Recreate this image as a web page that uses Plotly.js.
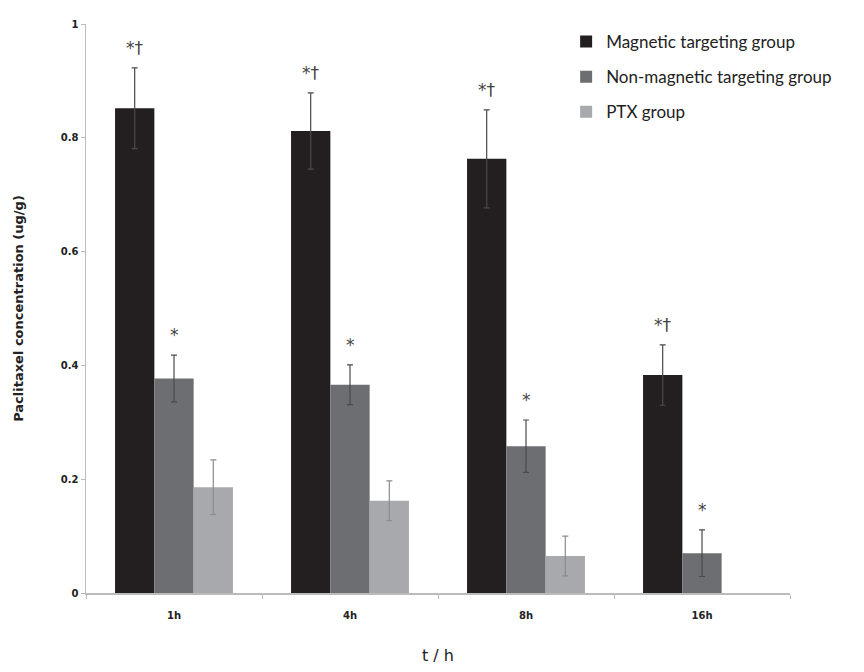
<!DOCTYPE html>
<html>
<head>
<meta charset="utf-8">
<script src="https://cdn.plot.ly/plotly-3.0.1.min.js"></script>
<style>html,body{margin:0;padding:0;background:#fff;}#chart{width:864px;height:672px;}</style>
</head>
<body>
<div id="chart"></div>
<script>
const categories = ["1h", "4h", "8h", "16h"];
const seriesNames = ["Magnetic targeting group", "Non-magnetic targeting group", "PTX group"];
const magnetic = [0.852, 0.812, 0.763, 0.383];
const magneticErr = [0.071, 0.067, 0.086, 0.053];
const nonMagnetic = [0.377, 0.366, 0.258, 0.070];
const nonMagneticErr = [0.041, 0.035, 0.046, 0.041];
const ptx = [0.186, 0.162, 0.065, null];
const ptxErr = [0.048, 0.035, 0.035, null];
const magneticMarks = ["*†", "*†", "*†", "*†"];
const nonMagneticMarks = ["*", "*", "*", "*"];
const yTicks = [0, 0.2, 0.4, 0.6, 0.8, 1];

const colors = ["#231f20", "#6d6e71", "#a7a9ac"];
const values = [magnetic, nonMagnetic, ptx];
const errs = [magneticErr, nonMagneticErr, ptxErr];
const bargap = 0.33;
const barW = (1 - bargap) / 3;

const traces = values.map((v, k) => ({
  type: "bar",
  name: seriesNames[k],
  x: categories,
  y: v,
  legendgroup: "g" + k,
  marker: {color: colors[k], line: {width: 0}},
  error_y: {type: "data", array: errs[k], symmetric: true, visible: true,
            color: k === 2 ? "#8a8c8e" : "#4a4a4c", thickness: 1.2, width: 3}
}));

const annotations = [];
[magneticMarks, nonMagneticMarks].forEach((marks, k) => {
  marks.forEach((m, i) => {
    annotations.push({
      x: i + (k - 1) * barW, y: values[k][i] + errs[k][i], xref: "x", yref: "y",
      text: m, showarrow: false, yanchor: "bottom", yshift: 8,
      font: {family: "DejaVu Sans", size: 17, color: "#444"}
    });
  });
});

const layout = {
  width: 864, height: 672,
  margin: {l: 86, r: 74, t: 24, b: 79},
  paper_bgcolor: "#fff", plot_bgcolor: "#fff",
  barmode: "group", bargap: bargap, bargroupgap: 0,
  showlegend: true,
  legend: {x: 0.682, y: 1.0, xanchor: "left", yanchor: "top",
           font: {family: "Lato", size: 17, color: "#222"},
           tracegroupgap: 10, bgcolor: "rgba(0,0,0,0)", itemwidth: 30},
  xaxis: {
    type: "category", showline: true, linecolor: "#bbb", linewidth: 1.5,
    ticks: "outside", tickson: "boundaries", ticklen: 4, tickcolor: "#bbb",
    ticklabelstandoff: 12,
    tickfont: {family: "DejaVu Sans", size: 10, color: "#222", weight: "bold"},
    title: {text: "t / h", font: {family: "DejaVu Sans", size: 16, color: "#222"}, standoff: 30},
    showgrid: false, zeroline: false
  },
  yaxis: {
    range: [0, 1], tickvals: yTicks, showline: true, linecolor: "#bbb", linewidth: 1.5,
    ticks: "outside", ticklen: 4, tickcolor: "#bbb",
    tickfont: {family: "DejaVu Sans", size: 10, color: "#222", weight: "bold"},
    title: {text: "Paclitaxel concentration (ug/g)", font: {family: "DejaVu Sans", size: 13, color: "#222", weight: "bold"}, standoff: 34},
    showgrid: false, zeroline: false
  },
  annotations: annotations
};

Plotly.newPlot("chart", traces, layout, {displayModeBar: false, staticPlot: true});
</script>
</body>
</html>
